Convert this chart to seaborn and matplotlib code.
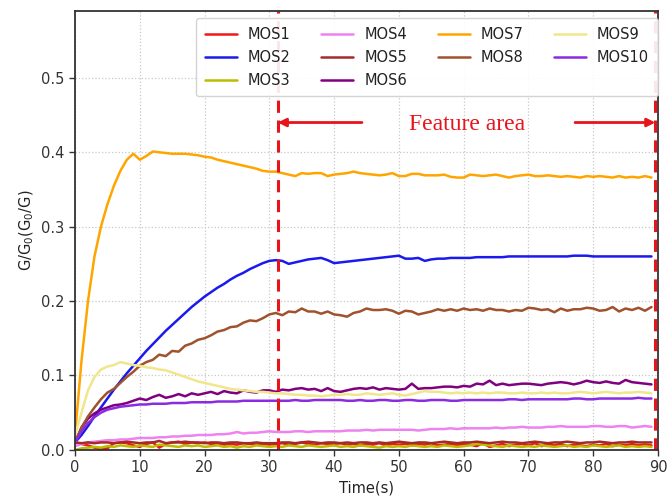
import numpy as np
import pandas as pd
import matplotlib
matplotlib.use("Agg")
import matplotlib.pyplot as plt
import seaborn as sns

time = list(range(90))

mos1 = [0.010,0.008,0.006,0.003,0.001,0.002,0.009,0.010,0.009,0.006,
        0.004,0.008,0.010,0.003,0.008,0.010,0.011,0.008,0.010,0.009,
        0.010,0.008,0.009,0.007,0.008,0.007,0.009,0.008,0.007,0.008,
        0.007,0.008,0.009,0.007,0.008,0.010,0.008,0.007,0.009,0.008,
        0.008,0.009,0.007,0.008,0.006,0.008,0.007,0.009,0.006,0.008,
        0.007,0.008,0.006,0.008,0.007,0.009,0.006,0.007,0.008,0.006,
        0.008,0.007,0.005,0.009,0.004,0.006,0.008,0.005,0.007,0.008,
        0.006,0.009,0.005,0.007,0.006,0.008,0.005,0.007,0.006,0.005,
        0.007,0.006,0.008,0.005,0.007,0.006,0.008,0.006,0.007,0.006]
mos2 = [0.010,0.020,0.032,0.045,0.057,0.069,0.081,0.092,0.103,0.113,
        0.123,0.133,0.142,0.151,0.160,0.168,0.176,0.184,0.192,0.199,
        0.206,0.212,0.218,0.223,0.229,0.234,0.238,0.243,0.247,0.251,
        0.254,0.255,0.254,0.250,0.252,0.254,0.256,0.257,0.258,0.255,
        0.251,0.252,0.253,0.254,0.255,0.256,0.257,0.258,0.259,0.260,
        0.261,0.257,0.257,0.258,0.254,0.256,0.257,0.257,0.258,0.258,
        0.258,0.258,0.259,0.259,0.259,0.259,0.259,0.260,0.260,0.260,
        0.260,0.260,0.260,0.260,0.260,0.260,0.260,0.261,0.261,0.261,
        0.260,0.260,0.260,0.260,0.260,0.260,0.260,0.260,0.260,0.260]
mos3 = [0.000,0.002,0.003,0.004,0.003,0.005,0.004,0.006,0.005,0.004,
        0.006,0.005,0.004,0.007,0.006,0.005,0.004,0.006,0.005,0.006,
        0.004,0.005,0.006,0.004,0.005,0.003,0.005,0.004,0.006,0.005,
        0.004,0.005,0.004,0.006,0.005,0.004,0.006,0.005,0.004,0.005,
        0.006,0.004,0.005,0.004,0.006,0.005,0.004,0.003,0.005,0.004,
        0.005,0.004,0.006,0.005,0.004,0.005,0.004,0.006,0.005,0.004,
        0.005,0.006,0.008,0.007,0.006,0.005,0.004,0.006,0.005,0.004,
        0.005,0.004,0.006,0.005,0.004,0.005,0.006,0.004,0.005,0.004,
        0.006,0.005,0.004,0.005,0.006,0.004,0.005,0.004,0.005,0.004]
mos4 = [0.005,0.008,0.010,0.011,0.012,0.013,0.013,0.014,0.014,0.015,
        0.016,0.016,0.016,0.017,0.017,0.018,0.018,0.019,0.019,0.020,
        0.020,0.020,0.021,0.021,0.022,0.024,0.022,0.023,0.023,0.024,
        0.025,0.024,0.024,0.024,0.025,0.025,0.024,0.025,0.025,0.025,
        0.025,0.025,0.026,0.026,0.026,0.027,0.026,0.027,0.027,0.027,
        0.027,0.027,0.027,0.026,0.027,0.028,0.028,0.028,0.029,0.028,
        0.029,0.029,0.029,0.029,0.029,0.030,0.029,0.030,0.030,0.031,
        0.030,0.030,0.030,0.031,0.031,0.032,0.031,0.031,0.031,0.031,
        0.032,0.032,0.031,0.031,0.032,0.032,0.030,0.031,0.032,0.031]
mos5 = [0.010,0.009,0.010,0.009,0.010,0.010,0.009,0.010,0.011,0.010,
        0.009,0.010,0.010,0.012,0.009,0.010,0.010,0.011,0.010,0.010,
        0.009,0.010,0.010,0.009,0.010,0.010,0.009,0.009,0.010,0.009,
        0.009,0.009,0.010,0.010,0.009,0.010,0.011,0.010,0.009,0.010,
        0.010,0.009,0.010,0.009,0.010,0.010,0.009,0.010,0.009,0.010,
        0.011,0.010,0.009,0.010,0.010,0.009,0.010,0.011,0.010,0.009,
        0.010,0.010,0.011,0.010,0.009,0.010,0.011,0.010,0.010,0.009,
        0.010,0.011,0.010,0.009,0.010,0.010,0.011,0.010,0.009,0.010,
        0.010,0.011,0.010,0.009,0.010,0.010,0.011,0.010,0.010,0.010]
mos6 = [0.010,0.030,0.042,0.049,0.054,0.057,0.060,0.061,0.063,0.066,
        0.069,0.067,0.071,0.074,0.070,0.072,0.075,0.072,0.076,0.074,
        0.076,0.078,0.075,0.079,0.077,0.076,0.080,0.078,0.077,0.080,
        0.080,0.078,0.081,0.080,0.082,0.083,0.081,0.082,0.079,0.083,
        0.079,0.078,0.080,0.082,0.083,0.082,0.084,0.081,0.083,0.082,
        0.081,0.082,0.089,0.082,0.083,0.083,0.084,0.085,0.085,0.084,
        0.086,0.085,0.089,0.088,0.093,0.087,0.089,0.087,0.088,0.089,
        0.089,0.088,0.087,0.089,0.090,0.091,0.090,0.088,0.090,0.093,
        0.091,0.090,0.092,0.090,0.089,0.094,0.091,0.090,0.089,0.088]
mos7 = [0.020,0.120,0.200,0.260,0.300,0.330,0.355,0.375,0.390,0.398,
        0.390,0.395,0.401,0.400,0.399,0.398,0.398,0.398,0.397,0.396,
        0.394,0.393,0.390,0.388,0.386,0.384,0.382,0.380,0.378,0.375,
        0.374,0.374,0.372,0.370,0.368,0.372,0.371,0.372,0.372,0.368,
        0.370,0.371,0.372,0.374,0.372,0.371,0.370,0.369,0.370,0.372,
        0.368,0.368,0.371,0.371,0.369,0.369,0.369,0.370,0.367,0.366,
        0.366,0.370,0.369,0.368,0.369,0.370,0.368,0.366,0.368,0.369,
        0.370,0.368,0.368,0.369,0.368,0.367,0.368,0.367,0.366,0.368,
        0.367,0.368,0.367,0.366,0.368,0.366,0.367,0.366,0.368,0.366]
mos8 = [0.010,0.030,0.045,0.057,0.068,0.077,0.082,0.090,0.098,0.105,
        0.113,0.118,0.121,0.128,0.126,0.133,0.132,0.140,0.143,0.148,
        0.150,0.154,0.159,0.161,0.165,0.166,0.171,0.174,0.173,0.177,
        0.182,0.184,0.181,0.186,0.185,0.190,0.186,0.186,0.183,0.186,
        0.182,0.181,0.179,0.184,0.186,0.190,0.188,0.188,0.189,0.187,
        0.183,0.187,0.186,0.182,0.184,0.186,0.189,0.187,0.189,0.187,
        0.190,0.188,0.189,0.187,0.190,0.188,0.188,0.186,0.188,0.187,
        0.191,0.190,0.188,0.189,0.185,0.190,0.187,0.189,0.189,0.191,
        0.190,0.187,0.188,0.192,0.186,0.190,0.188,0.191,0.187,0.192]
mos9 = [0.020,0.050,0.080,0.098,0.108,0.112,0.114,0.118,0.116,0.114,
        0.113,0.111,0.110,0.108,0.107,0.104,0.101,0.098,0.095,0.092,
        0.090,0.088,0.086,0.084,0.082,0.081,0.080,0.079,0.078,0.078,
        0.077,0.076,0.076,0.075,0.074,0.074,0.073,0.073,0.072,0.073,
        0.074,0.074,0.075,0.074,0.074,0.076,0.075,0.074,0.075,0.076,
        0.074,0.073,0.075,0.077,0.079,0.078,0.078,0.077,0.076,0.077,
        0.076,0.077,0.076,0.077,0.076,0.077,0.077,0.076,0.076,0.077,
        0.076,0.076,0.077,0.076,0.077,0.076,0.076,0.077,0.078,0.077,
        0.076,0.077,0.078,0.077,0.076,0.077,0.077,0.078,0.077,0.076]
mos10 = [0.010,0.025,0.036,0.044,0.050,0.054,0.056,0.058,0.059,0.060,
         0.061,0.061,0.062,0.062,0.062,0.063,0.063,0.063,0.064,0.064,
         0.064,0.064,0.065,0.065,0.065,0.065,0.066,0.066,0.066,0.066,
         0.066,0.066,0.066,0.066,0.067,0.066,0.066,0.067,0.067,0.067,
         0.067,0.067,0.066,0.066,0.067,0.066,0.066,0.067,0.067,0.066,
         0.066,0.067,0.067,0.066,0.066,0.067,0.067,0.067,0.066,0.066,
         0.067,0.067,0.067,0.067,0.067,0.067,0.067,0.068,0.068,0.067,
         0.068,0.068,0.068,0.068,0.068,0.068,0.068,0.069,0.069,0.068,
         0.068,0.069,0.069,0.069,0.069,0.069,0.069,0.070,0.069,0.069]

sensors = ["MOS1", "MOS2", "MOS3", "MOS4", "MOS5",
           "MOS6", "MOS7", "MOS8", "MOS9", "MOS10"]
series = [mos1, mos2, mos3, mos4, mos5, mos6, mos7, mos8, mos9, mos10]
colors = ["#f01818", "#1a1aef", "#bcbc00", "#ee82ee", "#a52a2a",
          "#800080", "#ffa500", "#a0522d", "#f0e68c", "#8a2be2"]

feature_start = 31.3
feature_end = 89.6

df = pd.DataFrame({
    "Time(s)": np.tile(time, len(sensors)),
    "value": np.concatenate(series),
    "sensor": np.repeat(sensors, len(time)),
})

sns.set_style("whitegrid", {"grid.linestyle": ":", "grid.color": "#c8c8c8",
                            "axes.edgecolor": "#333333"})
plt.rcParams["font.family"] = ["DejaVu Sans"]

fig = plt.figure(figsize=(6.7, 4.96), dpi=100)
ax = fig.add_axes([0.112, 0.093, 0.870, 0.885])

sns.lineplot(data=df, x="Time(s)", y="value", hue="sensor",
             hue_order=sensors, palette=dict(zip(sensors, colors)),
             linewidth=1.8, ax=ax, legend=False)

ax.set_xlim(0, 90)
ax.set_ylim(0, 0.59)
ax.set_xticks(range(0, 91, 10))
ax.set_yticks([0.0, 0.1, 0.2, 0.3, 0.4, 0.5])
ax.set_xlabel("Time(s)", fontsize=10.5, color="#222222")
ax.set_ylabel(r"G/G$_0$(G$_0$/G)", fontsize=10.5, color="#222222")
ax.tick_params(axis="both", labelsize=10.5, colors="#333333", length=4,
               width=1, direction="out", left=True, bottom=True)
for s in ax.spines.values():
    s.set_linewidth(1.3)
    s.set_color("#333333")
ax.grid(True, linestyle=":", color="#c8c8c8", linewidth=0.9)

for xv in (feature_start, feature_end):
    ax.axvline(xv, color="#e8141c", linestyle=(0, (4, 2.5)), linewidth=2.2)

ax.annotate("", xy=(feature_start, 0.440), xytext=(44.3, 0.440),
            arrowprops=dict(arrowstyle="-|>", color="#e8141c", lw=2,
                            mutation_scale=12, shrinkA=0, shrinkB=0))
ax.annotate("", xy=(feature_end, 0.440), xytext=(77.2, 0.440),
            arrowprops=dict(arrowstyle="-|>", color="#e8141c", lw=2,
                            mutation_scale=12, shrinkA=0, shrinkB=0))
ax.text(60.5, 0.438, "Feature area", color="#e8141c", fontsize=17,
        family=["Liberation Serif", "DejaVu Serif"], ha="center", va="center")

handles = [plt.Line2D([], [], color=c, lw=1.8) for c in colors]
leg = ax.legend(handles, sensors, ncol=4, loc="upper right",
                bbox_to_anchor=(1.0, 0.984), borderaxespad=0.0, fontsize=10.5,
                frameon=True, fancybox=True, framealpha=0.9,
                edgecolor="#d0d0d0", columnspacing=2.1, handlelength=2.2,
                handletextpad=0.75, labelspacing=0.55, borderpad=0.6)
for t in leg.get_texts():
    t.set_color("#222222")

fig.savefig("out.png", dpi=100)
